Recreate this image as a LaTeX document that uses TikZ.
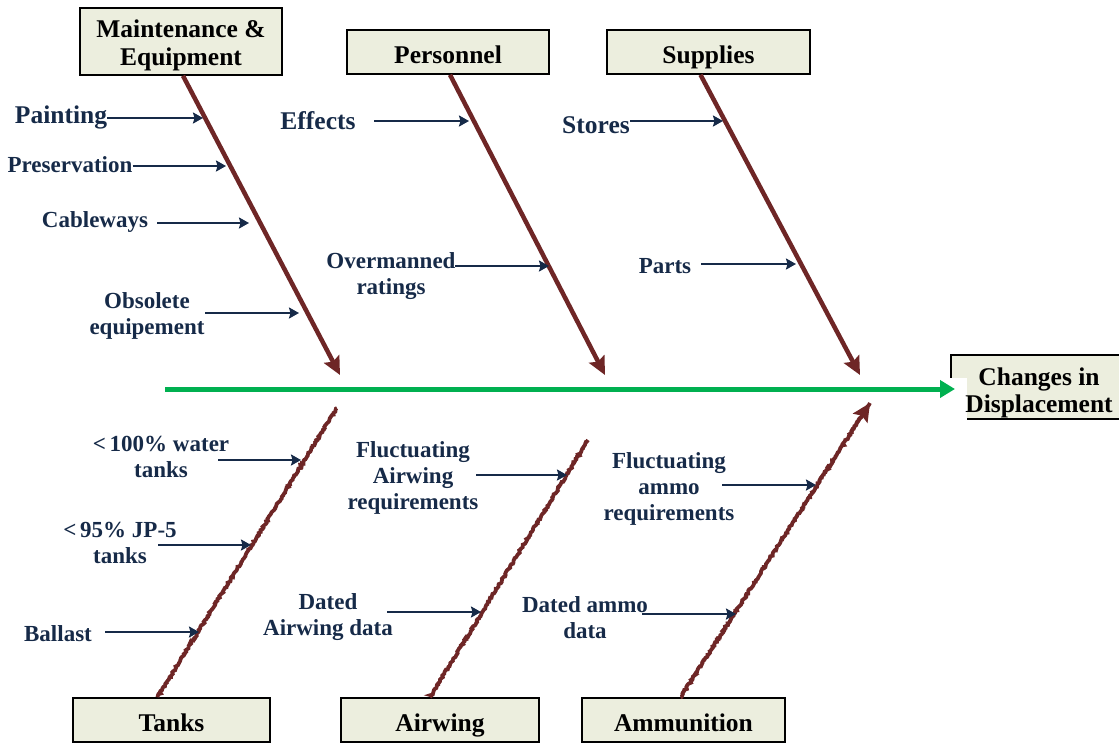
\documentclass[tikz,border=0pt]{standalone}
\usepackage{fontspec}
\setmainfont{Liberation Serif}
\usetikzlibrary{arrows.meta,decorations.pathmorphing,calc}
\definecolor{bonecol}{RGB}{110,38,38}
\definecolor{navy}{RGB}{22,42,72}
\definecolor{spine}{RGB}{0,176,80}
\definecolor{boxfill}{RGB}{236,238,222}
\tikzset{
  catbox/.style={draw=black,line width=1.6pt,fill=boxfill,font=\bfseries\fontsize{25.5}{28}\selectfont,align=center,inner sep=0pt},
  onebox/.style={catbox,text height=23pt,text depth=0pt},
  boxtext/.style={font=\bfseries\fontsize{25.5}{28}\selectfont,align=center,inner sep=0pt},
  lbl/.style={text=navy,font=\bfseries\fontsize{23}{26}\selectfont,align=center,inner sep=0pt},
  biglbl/.style={lbl,font=\bfseries\fontsize{25.5}{28}\selectfont},
  cause/.style={draw=navy,line width=2.6pt,-{Stealth[length=10pt,width=11pt,inset=1.5pt]}},
  bone/.style={draw=bonecol,line width=4.5pt,-{Stealth[length=18pt,width=17pt,inset=3pt]}},
  bonerough/.style={draw=bonecol,line width=3.8pt,decorate,decoration={random steps,segment length=1.5pt,amplitude=0.9pt}},
}
\begin{document}
\begin{tikzpicture}[x=1pt,y=-1pt]
\useasboundingbox (0,0) rectangle (1119,742);
% category boxes
\node[catbox,minimum width=202pt,minimum height=67pt] (mnt) at (181,41.5) {};
\node[boxtext] (mntt) at (181,45) {Maintenance \&\\Equipment};
\node[onebox,minimum width=202pt,minimum height=44pt] (per) at (448,52) {Personnel};
\node[onebox,minimum width=203pt,minimum height=44pt] (sup) at (708.5,52) {Supplies};
\node[onebox,minimum width=197pt,minimum height=44pt] (tnk) at (171.5,720) {Tanks};
\node[onebox,minimum width=198pt,minimum height=44pt] (air) at (440,720) {Airwing};
\node[onebox,minimum width=203pt,minimum height=44pt] (amm) at (683.5,720) {Ammunition};
% effect box
\path[draw=black,line width=1.6pt,fill=boxfill] (951,355) rectangle (1125,419);
\fill[white] (942,378) rectangle (967,424);
\node[font=\bfseries\fontsize{25.5}{27}\selectfont,align=center,inner sep=0pt] (eff) at (1039,392.5) {Changes in\\Displacement};
% spine
\coordinate (s0) at (165,389);
\draw[spine,line width=5pt,-{Triangle[length=15pt,width=17pt]}] (s0) -- (s0 -| 955,0);
% top bones
\coordinate (m1) at (340,375);
\coordinate (p1) at (605,375);
\coordinate (u1) at (860,375);
\draw[bone] ([xshift=2pt]mnt.south) -- (m1);
\draw[bone] ([xshift=2pt]per.south) -- (p1);
\draw[bone] ([xshift=-8pt]sup.south) -- (u1);
% bottom bones
\coordinate (t1) at (337,408);
\coordinate (a1) at (588,440);
\coordinate (n1) at (870,403);
\draw[bonerough] ([xshift=-14pt]tnk.north) -- (t1);
\draw[bonerough] ([xshift=-10pt]air.north) -- (a1);
\draw[bonerough] ([xshift=-3pt]amm.north) -- (n1);
\draw[draw=bonecol,line width=3.5pt,-{Stealth[length=18pt,width=17pt,inset=3pt]}] ($([xshift=-3pt]amm.north)!0.9!(n1)$) -- (n1);
% labels
\node[biglbl] (l1) at (61,117) {Painting};
\node[lbl] (l2) at (70,165) {Preservation};
\node[lbl] (l3) at (95,222) {Cableways};
\node[lbl] (l4) at (147,316) {Obsolete\\equipement};
\node[biglbl] (l5) at (318,121) {Effects};
\node[lbl] (l6) at (391,276) {Overmanned\\ratings};
\node[biglbl] (l7) at (596,125) {Stores};
\node[lbl] (l8) at (665,266) {Parts};
\node[lbl] (l9) at (161,457) {<\,100\% water\\tanks};
\node[lbl] (l10) at (120,543) {<\,95\% JP-5\\tanks};
\node[lbl] (l11) at (58,634) {Ballast};
\node[lbl] (l12) at (413,478) {Fluctuating\\Airwing\\requirements};
\node[lbl] (l13) at (328,617) {Dated\\Airwing data};
\node[lbl] (l14) at (669,489) {Fluctuating\\ammo\\requirements};
\node[lbl] (l15) at (585,618) {Dated ammo\\data};
% cause arrows
\coordinate (e1) at (203,118);  \draw[cause] (l1.east |- e1) -- (e1);
\coordinate (e2) at (226,166);  \draw[cause] (l2.east |- e2) -- (e2);
\coordinate (b3) at (157,223); \coordinate (e3) at (249,223); \draw[cause] (b3) -- (e3);
\coordinate (b4) at (205,313); \coordinate (e4) at (299,313); \draw[cause] (b4) -- (e4);
\coordinate (b5) at (374,121); \coordinate (e5) at (469,121); \draw[cause] (b5) -- (e5);
\coordinate (b6) at (455,266); \coordinate (e6) at (549,266); \draw[cause] (b6) -- (e6);
\coordinate (b7) at (630,121); \coordinate (e7) at (723,121); \draw[cause] (b7) -- (e7);
\coordinate (b8) at (701,264); \coordinate (e8) at (796,264); \draw[cause] (b8) -- (e8);
\coordinate (b9) at (218,460); \coordinate (e9) at (301,460); \draw[cause] (b9) -- (e9);
\coordinate (b10) at (158,545); \coordinate (e10) at (251,545); \draw[cause] (b10) -- (e10);
\coordinate (b11) at (105,632); \coordinate (e11) at (199,632); \draw[cause] (b11) -- (e11);
\coordinate (b12) at (476,475); \coordinate (e12) at (567,475); \draw[cause] (b12) -- (e12);
\coordinate (b13) at (387,612); \coordinate (e13) at (481,612); \draw[cause] (b13) -- (e13);
\coordinate (b14) at (722,485); \coordinate (e14) at (816,485); \draw[cause] (b14) -- (e14);
\coordinate (b15) at (642,614); \coordinate (e15) at (736,614); \draw[cause] (b15) -- (e15);
\end{tikzpicture}
\end{document}
